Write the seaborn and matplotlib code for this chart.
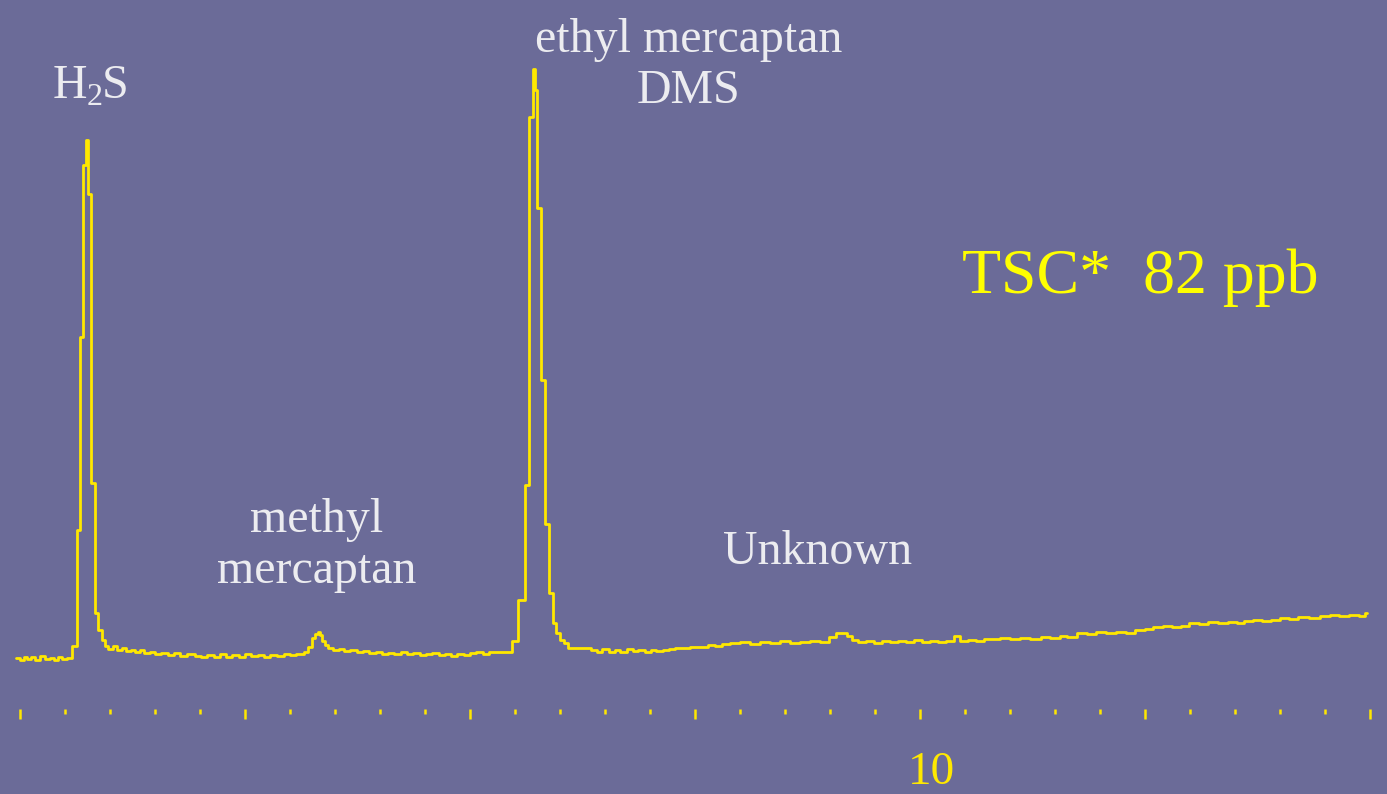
import numpy as np
import pandas as pd
import matplotlib
matplotlib.use("Agg")
import matplotlib.pyplot as plt
from matplotlib.ticker import MultipleLocator, FixedLocator, FixedFormatter
from matplotlib.transforms import ScaledTranslation
import seaborn as sns

# ---------------- data ----------------
# retention time in minutes
time_min = [
    -0.04, 0.00, 0.04, 0.08, 0.12, 0.17, 0.22, 0.28, 0.33, 0.38, 0.42, 0.47, 0.52,
    0.58, 0.63, 0.67, 0.70, 0.73, 0.75, 0.79, 0.83, 0.87, 0.91, 0.94, 0.98,
    1.03, 1.08, 1.13, 1.18, 1.23, 1.28, 1.33, 1.38, 1.44, 1.50, 1.57, 1.64, 1.71,
    1.78, 1.86, 1.94, 2.01, 2.08, 2.15, 2.22, 2.29, 2.36, 2.43, 2.50, 2.57, 2.64,
    2.71, 2.78, 2.86, 2.93, 3.00, 3.07, 3.16, 3.20, 3.24, 3.28, 3.31, 3.33, 3.36,
    3.39, 3.42, 3.48, 3.54, 3.60, 3.67, 3.74, 3.81, 3.88, 3.95, 4.02, 4.09, 4.16,
    4.23, 4.30, 4.37, 4.44, 4.51, 4.58, 4.65, 4.72, 4.79, 4.86, 4.93, 5.00, 5.07,
    5.14, 5.21, 5.28, 5.35, 5.47, 5.53, 5.61, 5.66, 5.70, 5.72, 5.74, 5.79, 5.83,
    5.88, 5.92, 5.96, 6.00, 6.04, 6.09, 6.17, 6.26, 6.34, 6.41, 6.47, 6.54, 6.61,
    6.67, 6.74, 6.81, 6.87, 6.94, 7.01, 7.07, 7.14, 7.21, 7.28, 7.36, 7.44, 7.56,
    7.64, 7.72, 7.80, 7.89, 8.00, 8.11, 8.22, 8.33, 8.44, 8.56, 8.67, 8.78, 8.89,
    8.99, 9.07, 9.14, 9.19, 9.24, 9.31, 9.40, 9.49, 9.58, 9.67, 9.76, 9.84, 9.93,
    10.02, 10.11, 10.20, 10.29, 10.38, 10.44, 10.53, 10.62, 10.71, 10.80, 10.89,
    11.00, 11.11, 11.22, 11.34, 11.44, 11.56, 11.63, 11.74, 11.85, 11.96, 12.07,
    12.18, 12.29, 12.39, 12.50, 12.59, 12.70, 12.80, 12.90, 12.99, 13.10, 13.20,
    13.31, 13.42, 13.52, 13.60, 13.70, 13.80, 13.90, 14.00, 14.10, 14.20, 14.32,
    14.44, 14.55, 14.66, 14.77, 14.88, 14.94, 14.97,
]
# detector signal (arbitrary units)
signal = [
    2, 0, 3, 1, 3, 0, 4, 1, 2, 0, 3, 1, 2,
    14, 130, 323, 495, 520, 466, 177, 47, 30, 20, 14, 11,
    14, 10, 12, 9, 10, 8, 10, 7, 8, 6, 7, 5, 7,
    4, 6, 4, 3, 5, 3, 6, 3, 5, 3, 6, 4, 5,
    3, 5, 4, 6, 5, 6, 8, 13, 22, 26, 28, 25, 19,
    15, 12, 10, 11, 9, 10, 8, 9, 7, 8, 6, 7, 6,
    8, 6, 7, 5, 6, 7, 5, 6, 4, 6, 5, 7, 8,
    6, 8, 8, 8, 19, 60, 175, 543, 591, 570, 452, 280, 136,
    67, 37, 27, 20, 17, 12, 12, 12, 10, 8, 11, 8, 10,
    8, 11, 9, 10, 8, 10, 9, 10, 11, 12, 12, 13, 13,
    15, 14, 16, 17, 18, 16, 18, 17, 19, 17, 18, 19, 18,
    23, 27, 27, 24, 20, 18, 19, 17, 19, 18, 19, 18, 20,
    18, 19, 18, 19, 24, 19, 20, 19, 21, 21, 22,
    21, 22, 21, 23, 22, 24, 23, 27, 26, 28, 27,
    28, 27, 30, 31, 33, 34, 33, 34, 37, 36, 38,
    37, 38, 37, 39, 40, 39, 40, 42, 41, 43, 42,
    44, 45, 44, 45, 44, 47, 47,
]

major_ticks = [0, 2.5, 5, 7.5, 10, 12.5, 15]
major_labels = ["", "", "", "", "10", "", ""]

peak_labels = ["methyl\nmercaptan", "ethyl mercaptan\nDMS", "Unknown"]
h2s_parts = ["H", "2", "S"]
tsc_text = "TSC*  82 ppb"

df = pd.DataFrame({"time": time_min, "signal": signal})

# ---------------- style ----------------
BG = "#6B6B98"
TRACE = "#FFE800"
TXT = "#ECECF0"
TSC = "#FFFF00"

sns.set_theme(style="white")
plt.rcParams["font.family"] = ["Liberation Serif", "DejaVu Serif"]

fig = plt.figure(figsize=(13.87, 7.94), dpi=100, facecolor=BG)
ax = fig.add_axes([0, 85 / 794, 1, 709 / 794])
ax.set_facecolor(BG)

sns.lineplot(data=df, x="time", y="signal", ax=ax, color=TRACE, linewidth=2.0,
             drawstyle="steps-post", estimator=None, sort=False, legend=False)

ax.set_xlim(-20 / 90, 1367 / 90)
ax.set_ylim(-49, 660)

for s in ax.spines.values():
    s.set_visible(False)
ax.yaxis.set_visible(False)
ax.set_xlabel("")
ax.set_ylabel("")

ax.xaxis.set_major_locator(FixedLocator(major_ticks))
ax.xaxis.set_major_formatter(FixedFormatter(major_labels))
ax.xaxis.set_minor_locator(MultipleLocator(0.5))
ax.tick_params(axis="x", which="major", direction="out", length=7.2, width=1.8,
               color=TRACE, labelcolor=TRACE, labelsize=34, pad=23.5, bottom=True)
ax.tick_params(axis="x", which="minor", direction="out", length=3.6, width=1.8,
               color=TRACE, bottom=True)
# the "10" label sits slightly right of its tick in the original
for tick in ax.xaxis.get_major_ticks():
    lab = tick.label1
    lab.set_transform(lab.get_transform() + ScaledTranslation(11 / 100, 0, fig.dpi_scale_trans))

fs = 34.5
# H2S with a lowered subscript
ax.text(0.367, 562, h2s_parts[0], color=TXT, fontsize=fs, ha="left", va="baseline")
ax.text(0.744, 555, h2s_parts[1], color=TXT, fontsize=23, ha="left", va="baseline")
ax.text(0.911, 562, h2s_parts[2], color=TXT, fontsize=fs, ha="left", va="baseline")

ax.text(3.30, 77, peak_labels[0], color=TXT, fontsize=fs, ha="center", va="baseline",
        linespacing=1.2, multialignment="center")
ax.text(7.43, 557, peak_labels[1], color=TXT, fontsize=fs, ha="center", va="baseline",
        linespacing=1.2, multialignment="center")
ax.text(8.86, 96, peak_labels[2], color=TXT, fontsize=fs, ha="center", va="baseline")
ax.text(10.47, 367, tsc_text, color=TSC, fontsize=46, ha="left", va="baseline")

fig.savefig("out.png", dpi=100, facecolor=BG)
